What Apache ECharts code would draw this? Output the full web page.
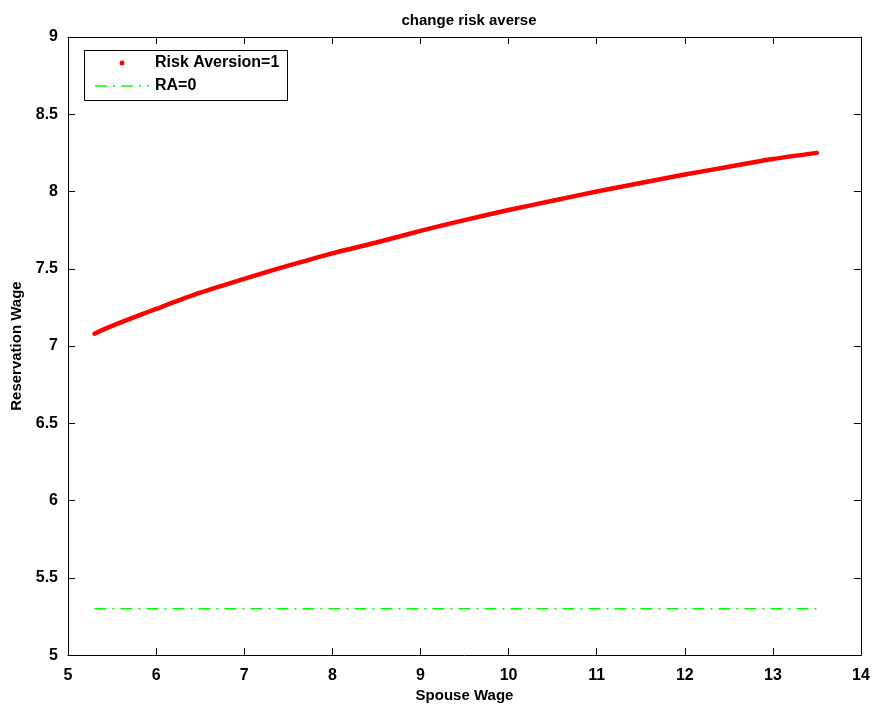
<!DOCTYPE html>
<html>
<head>
<meta charset="utf-8">
<script src="https://cdn.jsdelivr.net/npm/echarts@6/dist/echarts.min.js"></script>
<style>
  html, body { margin: 0; padding: 0; background: #fff; }
  #chart { width: 874px; height: 708px; }
</style>
</head>
<body>
<div id="chart"></div>
<script>
// Reservation wage as a function of the spouse's wage
const spouseWage = [5.3, 5.5, 6.0, 6.5, 7.0, 7.5, 8.0, 8.5, 9.0, 9.5, 10.0, 10.5, 11.0, 11.5, 12.0, 12.5, 13.0, 13.5];
const riskAverse = [7.08, 7.13, 7.24, 7.345, 7.435, 7.52, 7.60, 7.67, 7.745, 7.815, 7.88, 7.94, 8.0, 8.055, 8.11, 8.16, 8.21, 8.25];
// Risk-neutral benchmark (constant)
const raZeroX = [5.3, 13.5];
const raZeroY = [5.3, 5.3];

const xTicks = [5, 6, 7, 8, 9, 10, 11, 12, 13, 14];
const yTicks = [5, 5.5, 6, 6.5, 7, 7.5, 8, 8.5, 9];

const FONT = '"Liberation Sans", Arial, Helvetica, sans-serif';

const chart = echarts.init(document.getElementById('chart'), null, { renderer: 'canvas' });

const baseAxisLine = { show: true, lineStyle: { color: '#000', width: 1 } };
const baseTick = { show: true, inside: true, length: 7, lineStyle: { color: '#000', width: 1 } };

chart.setOption({
  backgroundColor: '#fff',
  animation: false,
  title: {
    text: 'change risk averse',
    left: 464, top: 8, textAlign: 'center',
    textStyle: { fontFamily: FONT, fontSize: 15, fontWeight: 'bold', color: '#000' }
  },
  grid: { left: 68, right: 13, top: 37, bottom: 47, containLabel: false },
  xAxis: [
    {
      type: 'value', position: 'bottom',
      min: xTicks[0], max: xTicks[xTicks.length - 1], interval: 1,
      axisLine: baseAxisLine, axisTick: baseTick, splitLine: { show: false },
      axisLabel: { fontFamily: FONT, fontSize: 16, fontWeight: 'bold', color: '#000', margin: 12 },
      name: 'Spouse Wage', nameLocation: 'middle', nameGap: 30,
      nameTextStyle: { fontFamily: FONT, fontSize: 15, fontWeight: 'bold', color: '#000' }
    },
    {
      type: 'value', position: 'top',
      min: xTicks[0], max: xTicks[xTicks.length - 1], interval: 1,
      axisLine: baseAxisLine, axisTick: baseTick, splitLine: { show: false },
      axisLabel: { show: false }
    }
  ],
  yAxis: [
    {
      type: 'value', position: 'left',
      min: yTicks[0], max: yTicks[yTicks.length - 1], interval: 0.5,
      axisLine: baseAxisLine, axisTick: baseTick, splitLine: { show: false },
      axisLabel: { fontFamily: FONT, fontSize: 16, fontWeight: 'bold', color: '#000', margin: 10 },
      name: 'Reservation Wage', nameLocation: 'middle', nameGap: 39, nameRotate: 90,
      nameTextStyle: { fontFamily: FONT, fontSize: 15, fontWeight: 'bold', color: '#000' }
    },
    {
      type: 'value', position: 'right',
      min: yTicks[0], max: yTicks[yTicks.length - 1], interval: 0.5,
      axisLine: baseAxisLine, axisTick: baseTick, splitLine: { show: false },
      axisLabel: { show: false }
    }
  ],
  series: [
    {
      name: 'Risk Aversion=1',
      type: 'line',
      xAxisIndex: 0, yAxisIndex: 0,
      data: spouseWage.map((x, i) => [x, riskAverse[i]]),
      showSymbol: false,
      smooth: 0.3,
      lineStyle: { color: '#ff0000', width: 4.5, cap: 'round' }
    },
    {
      name: 'RA=0',
      type: 'line',
      xAxisIndex: 0, yAxisIndex: 0,
      data: raZeroX.map((x, i) => [x, raZeroY[i]]),
      showSymbol: false,
      lineStyle: { color: '#00ff00', width: 1.5, type: [12, 6, 2, 6] }
    }
  ],
  graphic: [
    {
      type: 'rect', left: 84, top: 50,
      shape: { width: 203, height: 50 },
      style: { fill: '#fff', stroke: '#000', lineWidth: 1 }, z: 100
    },
    {
      type: 'circle', shape: { cx: 122, cy: 63, r: 2.5 },
      style: { fill: '#ff0000' }, z: 101
    },
    {
      type: 'text', left: 155, top: 55,
      style: { text: 'Risk Aversion=1', font: 'bold 16px ' + FONT, fill: '#000' }, z: 101
    },
    {
      type: 'line', shape: { x1: 95, y1: 86, x2: 149, y2: 86 },
      style: { stroke: '#00ff00', lineWidth: 1.5, lineDash: [12, 6, 2, 6] }, z: 101
    },
    {
      type: 'text', left: 155, top: 78,
      style: { text: 'RA=0', font: 'bold 16px ' + FONT, fill: '#000' }, z: 101
    }
  ]
});
</script>
</body>
</html>
